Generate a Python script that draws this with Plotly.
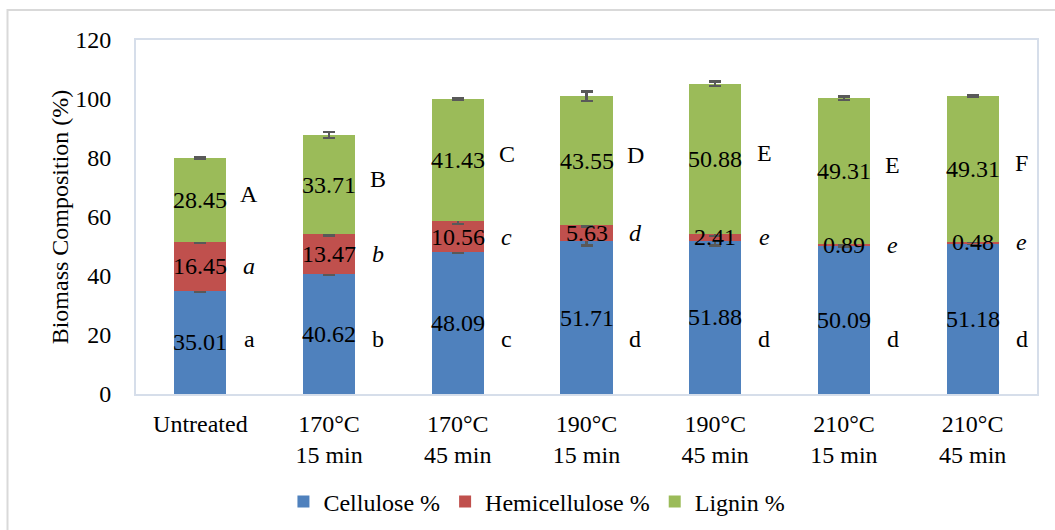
import plotly.graph_objects as go

categories = ["Untreated", "170°C<br>15 min", "170°C<br>45 min", "190°C<br>15 min",
              "190°C<br>45 min", "210°C<br>15 min", "210°C<br>45 min"]
cellulose = [35.01, 40.62, 48.09, 51.71, 51.88, 50.09, 51.18]
hemicellulose = [16.45, 13.47, 10.56, 5.63, 2.41, 0.89, 0.48]
lignin = [28.45, 33.71, 41.43, 43.55, 50.88, 49.31, 49.31]
cellulose_err = [0.3, 0.3, 0.3, 1.3, 1.5, 0.3, 0.3]
hemicellulose_err = [0.3, 0.3, 1.0, 0.5, 0.8, 0.3, 0.2]
lignin_err = [0.3, 1.0, 0.2, 1.6, 0.7, 0.6, 0.2]
cellulose_letters = ["a", "b", "c", "d", "d", "d", "d"]
hemicellulose_letters = ["a", "b", "c", "d", "e", "e", "e"]
lignin_letters = ["A", "B", "C", "D", "E", "E", "F"]

FONT = "Liberation Serif"
FS = 24
colors = ["#4F81BD", "#C0504D", "#9BBB59"]
names = ["Cellulose %", "Hemicellulose %", "Lignin %"]
series = [cellulose, hemicellulose, lignin]
errs = [cellulose_err, hemicellulose_err, lignin_err]

fig = go.Figure()
for name, vals, err, col in zip(names, series, errs, colors):
    fig.add_trace(go.Bar(
        x=categories, y=vals, name=name, marker=dict(color=col, line=dict(width=0)),
        error_y=dict(type="data", array=err, visible=True, color="#595959",
                     thickness=2.5, width=6),
        hoverinfo="skip",
    ))

annotations = []
n = len(categories)
for i in range(n):
    base = 0.0
    for k, vals in enumerate(series):
        mid = base + vals[i] / 2
        annotations.append(dict(x=i, y=mid, xref="x", yref="y", text=f"{vals[i]:.2f}",
                                showarrow=False, font=dict(family=FONT, size=FS, color="black")))
        if k == 0:
            ly, txt = 18.5, cellulose_letters[i]
        elif k == 1:
            ly, txt = mid, "<i>" + hemicellulose_letters[i] + "</i>"
        else:
            ly, txt = mid + 2, lignin_letters[i]
        annotations.append(dict(x=i + 0.38, y=ly, xref="x", yref="y", text=txt,
                                showarrow=False, font=dict(family=FONT, size=FS, color="black")))
        base += vals[i]

fig.update_layout(
    width=1055, height=530,
    margin=dict(l=136, r=18, t=40, b=136, autoexpand=False),
    barmode="stack", bargap=0.595,
    plot_bgcolor="white", paper_bgcolor="white",
    font=dict(family=FONT, size=FS, color="black"),
    showlegend=True,
    legend=dict(orientation="h", x=0.445, xanchor="center", y=-0.305, yanchor="middle",
                font=dict(family=FONT, size=FS, color="black"), itemwidth=30,
                traceorder="normal"),
    annotations=annotations,
    shapes=[dict(type="rect", xref="paper", yref="paper",
                 x0=(7.5 - 136) / 901, x1=1.2, y0=-0.6, y1=(394 - 10) / 354,
                 line=dict(color="#D9D9D9", width=2), layer="below")],
)
fig.update_xaxes(showgrid=False, showline=True, linecolor="#D6DEEA", linewidth=2, mirror=True,
                 ticks="", tickfont=dict(family=FONT, size=FS), ticklabelstandoff=7)
fig.update_yaxes(range=[0, 120], dtick=20, showgrid=False, zeroline=False, showline=True,
                 linecolor="#D6DEEA", linewidth=2, mirror=True, ticks="",
                 tickfont=dict(family=FONT, size=FS), ticklabelstandoff=18,
                 title=dict(text="Biomass Composition (%)", font=dict(family=FONT, size=FS),
                            standoff=0))

fig.write_html("out.html")
